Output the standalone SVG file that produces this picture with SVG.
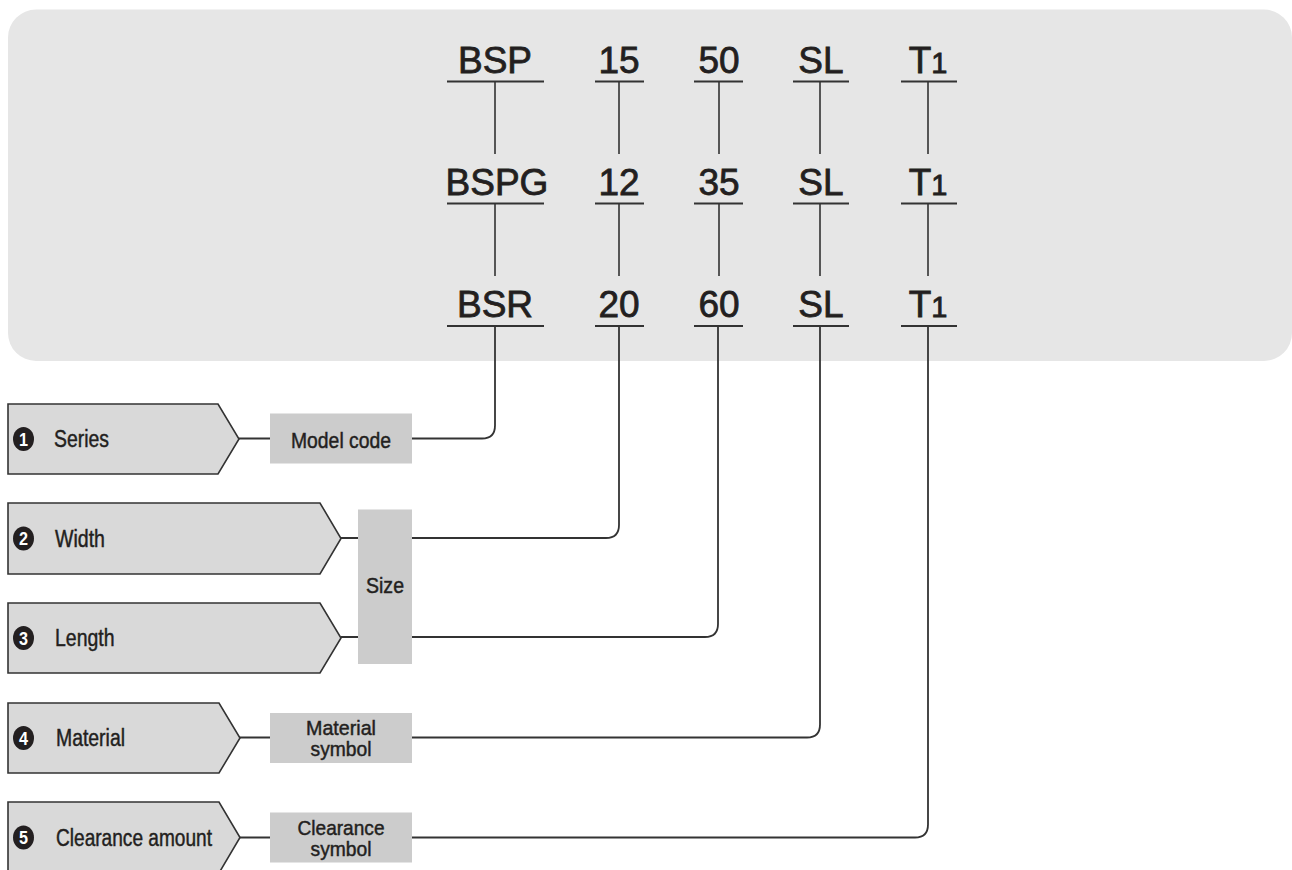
<svg xmlns="http://www.w3.org/2000/svg" width="1292" height="870" viewBox="0 0 1292 870">
<defs>
<style>
.code{font-family:"Liberation Sans",Arial,sans-serif;font-size:37px;fill:#231f20;stroke:#231f20;stroke-width:0.8;text-anchor:middle}
.sub{font-size:29px}
.ul{stroke:#333;stroke-width:2;fill:none}
.vl{stroke:#333;stroke-width:1.6;fill:none}
.pent{fill:#d9d9d9;stroke:#333;stroke-width:1.6}
.box{fill:#cccccc}
.lbl{font-family:"Liberation Sans",Arial,sans-serif;font-size:23px;fill:#231f20;stroke:#231f20;stroke-width:0.45}
.blbl{font-family:"Liberation Sans",Arial,sans-serif;font-size:22px;fill:#231f20;stroke:#231f20;stroke-width:0.45;text-anchor:middle}
.blbl2{font-family:"Liberation Sans",Arial,sans-serif;font-size:20.5px;fill:#231f20;stroke:#231f20;stroke-width:0.45;text-anchor:middle}
.num{font-family:"Liberation Sans",Arial,sans-serif;font-size:18px;font-weight:bold;fill:#fff;text-anchor:middle}
.conn{stroke:#333;stroke-width:1.8;fill:none}
</style>
</defs>
<rect x="8" y="9.5" width="1284" height="351.5" rx="28" ry="28" fill="#e6e6e6"/>

<g id="codes">
<text class="code" x="495" y="72.5">BSP</text>
<text class="code" x="619" y="72.5">15</text>
<text class="code" x="719" y="72.5">50</text>
<text class="code" x="821" y="72.5">SL</text>
<text class="code" x="928" y="72.5">T<tspan class="sub">1</tspan></text>
<text class="code" x="497" y="194.5">BSPG</text>
<text class="code" x="619" y="194.5">12</text>
<text class="code" x="719" y="194.5">35</text>
<text class="code" x="821" y="194.5">SL</text>
<text class="code" x="928" y="194.5">T<tspan class="sub">1</tspan></text>
<text class="code" x="495" y="316.5">BSR</text>
<text class="code" x="619" y="316.5">20</text>
<text class="code" x="719" y="316.5">60</text>
<text class="code" x="821" y="316.5">SL</text>
<text class="code" x="928" y="316.5">T<tspan class="sub">1</tspan></text>
</g>

<g id="underlines">
<path class="ul" d="M447 81.5H544M595 81.5H644M694 81.5H743M793 81.5H849M901 81.5H957"/>
<path class="ul" d="M447 203.5H544M595 203.5H644M694 203.5H743M793 203.5H849M901 203.5H957"/>
<path class="ul" d="M447 326H544M595 326H644M694 326H743M793 326H849M901 326H957"/>
<path class="vl" d="M495 81.5V154M619 81.5V154M719 81.5V154M820 81.5V154M928 81.5V154"/>
<path class="vl" d="M495 203.5V276M619 203.5V276M719 203.5V276M820 203.5V276M928 203.5V276"/>
</g>

<g id="connectors">
<path class="conn" d="M495 326V425.5Q495 438.5 482 438.5H412M270 438.5H239"/>
<path class="conn" d="M619 326V525Q619 538 606 538H412M358 538H341"/>
<path class="conn" d="M718 326V624Q718 637 705 637H412M358 637H341"/>
<path class="conn" d="M820 326V724.5Q820 737.5 807 737.5H412M270 737.5H239"/>
<path class="conn" d="M928 326V824.5Q928 837.5 915 837.5H412M270 837.5H239"/>
</g>

<g id="series">
<polygon class="pent" points="8,404 218,404 239,439 218,474 8,474"/>
<ellipse cx="23.5" cy="439" rx="10.5" ry="12" fill="#231f20"/>
<text class="num" x="23.5" y="445.5" textLength="9" lengthAdjust="spacingAndGlyphs">1</text>
<text class="lbl" x="54" y="447" textLength="55" lengthAdjust="spacingAndGlyphs">Series</text>
</g>
<g id="model-code">
<rect class="box" x="270" y="413.5" width="142" height="50"/>
<text class="blbl" x="341" y="447.5" textLength="100" lengthAdjust="spacingAndGlyphs">Model code</text>
</g>

<g id="width">
<polygon class="pent" points="8,503 320,503 341,538.5 320,574 8,574"/>
<ellipse cx="23.5" cy="538.5" rx="10.5" ry="12" fill="#231f20"/>
<text class="num" x="23.5" y="545" textLength="9" lengthAdjust="spacingAndGlyphs">2</text>
<text class="lbl" x="55" y="546.5" textLength="50" lengthAdjust="spacingAndGlyphs">Width</text>
</g>
<g id="length">
<polygon class="pent" points="8,603 320,603 341,638 320,673 8,673"/>
<ellipse cx="23.5" cy="638" rx="10.5" ry="12" fill="#231f20"/>
<text class="num" x="23.5" y="644.5" textLength="9" lengthAdjust="spacingAndGlyphs">3</text>
<text class="lbl" x="55" y="646" textLength="59.5" lengthAdjust="spacingAndGlyphs">Length</text>
</g>
<g id="size">
<rect class="box" x="358" y="509.5" width="54" height="154.5"/>
<text class="blbl" x="385" y="592.5" textLength="38" lengthAdjust="spacingAndGlyphs">Size</text>
</g>

<g id="material">
<polygon class="pent" points="8,703 219,703 240,738 219,773 8,773"/>
<ellipse cx="23.5" cy="738" rx="10.5" ry="12" fill="#231f20"/>
<text class="num" x="23.5" y="744.5" textLength="9" lengthAdjust="spacingAndGlyphs">4</text>
<text class="lbl" x="56" y="746" textLength="69" lengthAdjust="spacingAndGlyphs">Material</text>
</g>
<g id="material-symbol">
<rect class="box" x="270" y="713" width="142" height="50"/>
<text class="blbl2" x="341" y="734.5" textLength="70" lengthAdjust="spacingAndGlyphs">Material</text>
<text class="blbl2" x="341" y="756" textLength="61" lengthAdjust="spacingAndGlyphs">symbol</text>
</g>

<g id="clearance">
<polygon class="pent" points="8,802 219,802 240,837.5 219,873 8,873"/>
<ellipse cx="23.5" cy="837.5" rx="10.5" ry="12" fill="#231f20"/>
<text class="num" x="23.5" y="844" textLength="9" lengthAdjust="spacingAndGlyphs">5</text>
<text class="lbl" x="56" y="845.5" textLength="156" lengthAdjust="spacingAndGlyphs">Clearance amount</text>
</g>
<g id="clearance-symbol">
<rect class="box" x="270" y="812.5" width="142" height="50"/>
<text class="blbl2" x="341" y="834.5" textLength="87" lengthAdjust="spacingAndGlyphs">Clearance</text>
<text class="blbl2" x="341" y="856" textLength="61" lengthAdjust="spacingAndGlyphs">symbol</text>
</g>
</svg>
